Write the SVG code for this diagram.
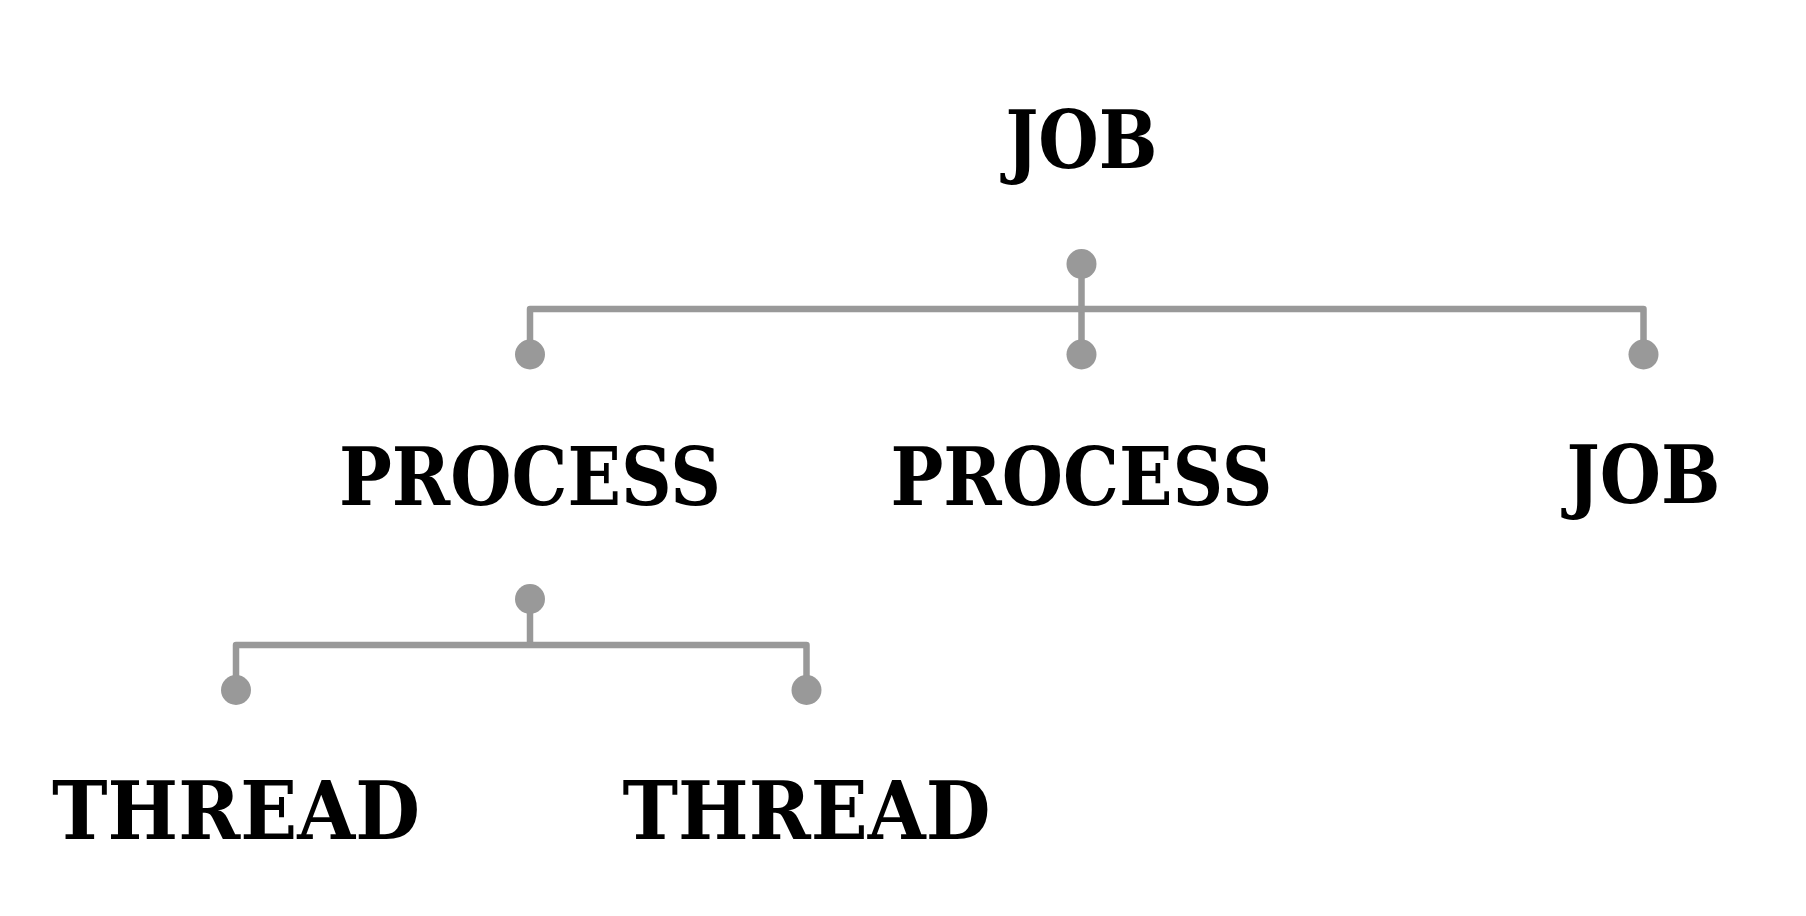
<svg xmlns="http://www.w3.org/2000/svg" width="1806" height="916" viewBox="0 0 1806 916">
<style>
.lbl{font-family:"DejaVu Serif","Liberation Serif",serif;font-weight:bold;font-size:80px;fill:#000;text-anchor:middle}
.wire{fill:none;stroke:#999999;stroke-width:6.5;stroke-linejoin:round}
.dot{fill:#999999}
</style>
<rect width="1806" height="916" fill="#ffffff"/>
<g id="connectors">
<path class="wire" d="M1081.5 264 V354"/>
<path class="wire" d="M530 354 V309 H1643.5 V354"/>
<circle class="dot" cx="1081.5" cy="264" r="15"/>
<circle class="dot" cx="530" cy="354.5" r="15"/>
<circle class="dot" cx="1081.5" cy="354.5" r="15"/>
<circle class="dot" cx="1643.5" cy="354.5" r="15"/>
<path class="wire" d="M530 599 V645"/>
<path class="wire" d="M236 690 V645 H806.5 V690"/>
<circle class="dot" cx="530" cy="599" r="15"/>
<circle class="dot" cx="236" cy="690" r="15"/>
<circle class="dot" cx="806.5" cy="690" r="15"/>
</g>
<g id="job-root"><text class="lbl" x="1081.5" y="168" textLength="152" lengthAdjust="spacingAndGlyphs">JOB</text></g>
<g id="process-1"><text class="lbl" x="530" y="505" textLength="382" lengthAdjust="spacingAndGlyphs">PROCESS</text></g>
<g id="process-2"><text class="lbl" x="1081.5" y="505" textLength="382" lengthAdjust="spacingAndGlyphs">PROCESS</text></g>
<g id="job-child"><text class="lbl" x="1643.5" y="503" textLength="154" lengthAdjust="spacingAndGlyphs">JOB</text></g>
<g id="thread-1"><text class="lbl" x="236" y="839" textLength="368" lengthAdjust="spacingAndGlyphs">THREAD</text></g>
<g id="thread-2"><text class="lbl" x="806.5" y="839" textLength="368" lengthAdjust="spacingAndGlyphs">THREAD</text></g>
</svg>
